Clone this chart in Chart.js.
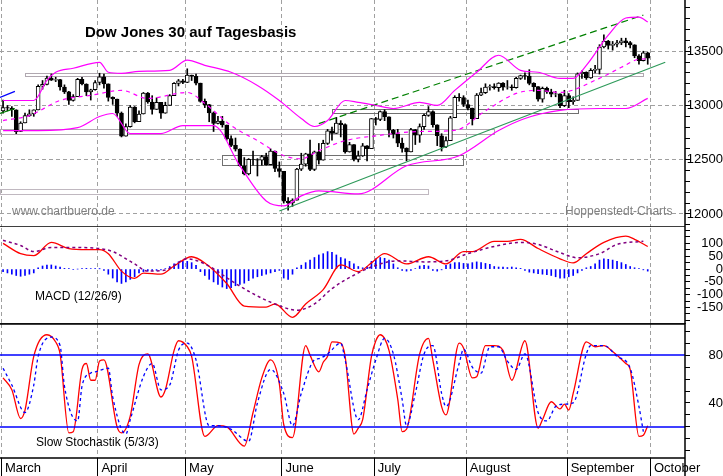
<!DOCTYPE html>
<html>
<head>
<meta charset="utf-8">
<script src="https://cdn.jsdelivr.net/npm/chart.js@4"></script>
<style>
  body { margin: 0; background: #fff; font-family: 'Liberation Sans', Arial, sans-serif; }
  #wrap { position: relative; width: 723px; height: 476px; overflow: hidden; }
  canvas { position: absolute; left: 0; }
  .txt { position: absolute; white-space: nowrap; }
</style>
</head>
<body>
<div id="wrap">
  <canvas id="main" style="top:0"></canvas>
  <canvas id="macd" style="top:227px"></canvas>
  <canvas id="stoch" style="top:323px"></canvas>
  <div class="txt" style="left:85px;top:23px;font-size:15px;font-weight:bold;">Dow Jones 30 auf Tagesbasis</div>
  <div class="txt" style="left:12px;top:204px;font-size:12px;color:#808080;">www.chartbuero.de</div>
  <div class="txt" style="left:565px;top:204px;font-size:12px;color:#808080;">Hoppenstedt-Charts</div>
  <div class="txt" style="left:35px;top:289px;font-size:12px;">MACD (12/26/9)</div>
  <div class="txt" style="left:36px;top:435px;font-size:12px;">Slow Stochastik (5/3/3)</div>
</div>
<script>
// trading day index 0 = 1 March 2012
const monthNames = ['March', 'April', 'May', 'June', 'July', 'August', 'September', 'October']
const monthStart = [0, 22, 42, 64, 85, 106, 129, 148]

// Dow Jones daily candles
const opens = [
  12950,12980,12977,12960,12760,12840,12907,12922,12960,13177,13194,13253,13233,13239,13170,13125,13046,13081,13241,13198,13126,13145,
  13212,13264,13199,13075,13060,12930,12716,12805,12986,12850,12921,13115,13032,12964,13029,12928,13001,13090,13204,13228,
  13213,13279,13269,13206,13038,13008,12932,12835,12855,12820,12695,12632,12598,12442,12369,12504,12502,12496,12529,12454,12580,12419,
  12393,12119,12101,12127,12414,12460,12554,12411,12573,12496,12651,12767,12742,12837,12824,12573,12640,12502,12535,12627,12602,
  12880,12871,12943,12896,12772,12736,12653,12605,12573,12777,12727,12805,12908,12943,12822,12721,12617,12676,12887,13075,13073,
  13009,12976,12879,13096,13118,13169,13175,13165,13207,13169,13172,13164,13250,13275,13271,13203,13173,13057,13158,13124,13103,13107,12999,
  13091,13036,13047,13292,13306,13254,13323,13333,13539,13593,13553,13565,13577,13596,13579,13558,13457,13413,13485
]
const highs = [
  13050,13000,12990,12960,12850,12930,12960,12960,13190,13230,13270,13290,13260,13240,13190,13130,13100,13250,13260,13200,13150,13230,
  13297,13290,13199,13080,13060,12940,12830,13000,12990,12950,13120,13120,13090,13070,13030,13030,13100,13210,13240,13240,
  13338,13280,13290,13206,13060,13010,12940,12900,12900,12820,12720,12700,12600,12520,12510,12580,12510,12540,12560,12600,12580,12480,
  12393,12150,12140,12420,12560,12560,12680,12580,12650,12680,12780,12800,12890,12860,12830,12660,12640,12580,12650,12630,12880,
  12890,12950,12960,12896,12780,12780,12700,12610,12790,12780,12830,12920,12990,12950,12822,12740,12710,12900,13090,13110,13090,
  13050,12976,13110,13160,13200,13190,13200,13210,13210,13230,13190,13260,13280,13300,13330,13210,13173,13170,13170,13150,13130,13107,13140,
  13110,13080,13300,13320,13310,13340,13370,13560,13650,13600,13590,13600,13620,13620,13590,13560,13470,13500,13490
]
const lows = [
  12930,12950,12900,12740,12760,12840,12900,12900,12960,13150,13190,13230,13220,13140,13110,13010,13040,13081,13190,13090,13050,13140,
  13190,13160,13040,13010,12900,12710,12716,12800,12840,12850,12921,13020,12920,12964,12880,12928,13001,13090,13180,13200,
  13210,13230,13190,13030,12980,12850,12760,12830,12800,12680,12620,12580,12440,12360,12360,12450,12350,12450,12450,12454,12390,12340,
  12100,12035,12070,12127,12400,12440,12400,12400,12460,12496,12640,12680,12742,12710,12560,12570,12490,12480,12530,12490,12602,
  12820,12860,12860,12710,12700,12620,12570,12490,12573,12640,12660,12780,12900,12800,12630,12580,12610,12676,12887,13040,12990,
  12960,12820,12879,13090,13110,13140,13150,13130,13140,13150,13140,13160,13240,13240,13190,13130,13040,13030,13110,13080,13080,12980,12990,
  12980,13010,13047,13250,13240,13250,13300,13290,13530,13520,13510,13540,13560,13540,13530,13440,13380,13410,13380
]
const closes = [
  12980,12977,12962,12759,12837,12907,12922,12959,13177,13194,13253,13233,13239,13170,13125,13046,13081,13241,13198,13126,13145,13212,
  13264,13199,13075,13060,12930,12716,12805,12986,12850,12921,13115,13032,12964,13029,12928,13001,13090,13204,13228,13213,
  13279,13269,13206,13038,13008,12932,12835,12855,12820,12695,12632,12598,12442,12369,12504,12502,12496,12529,12454,12580,12419,12393,
  12119,12101,12127,12414,12460,12554,12411,12573,12496,12651,12767,12742,12837,12824,12573,12640,12502,12535,12627,12602,12880,
  12871,12943,12896,12772,12736,12653,12605,12573,12777,12727,12805,12908,12943,12822,12721,12617,12676,12887,13075,13073,13009,
  12976,12879,13096,13118,13169,13175,13165,13207,13169,13172,13164,13250,13275,13271,13203,13173,13057,13158,13124,13103,13107,12999,13091,
  13036,13047,13292,13306,13254,13323,13333,13539,13593,13553,13565,13577,13596,13579,13558,13457,13413,13485,13437
]

// Bollinger bands as [day, value]
const bbUpper = [[0,13046],[4,13046],[7,13046],[10,13232],[12,13306],[16,13343],[22,13398],[24,13306],[27,13296],[31,13315],[38,13324],[42,13417],[46,13370],[52,13306],[58,13185],[63,13046],[68,12880],[71,12806],[74,12861],[78,13046],[81,13028],[85,13000],[89,12972],[95,13028],[99,13000],[103,13139],[108,13306],[113,13463],[118,13324],[122,13306],[127,13250],[130,13250],[133,13370],[138,13648],[142,13806],[145,13815],[147,13769]]
const bbMiddle = [[0,12861],[6,12907],[13,13046],[20,13093],[27,13139],[33,13065],[42,13120],[46,13019],[52,12815],[58,12676],[64,12537],[68,12509],[72,12583],[78,12676],[85,12720],[95,12760],[103,12770],[110,12950],[117,13111],[122,13139],[127,13120],[136,13250],[141,13352],[145,13426],[147,13430]]
const bbLower = [[0,12769],[8,12769],[17,12796],[22,12898],[25,12926],[29,12741],[36,12741],[41,12815],[48,12815],[54,12444],[60,12120],[64,12074],[68,12167],[72,12213],[81,12185],[92,12444],[104,12537],[113,12769],[119,12880],[127,12954],[136,12972],[142,12972],[147,13065]]

// trend lines [day0, value0, day1, value1]
const channelTop = [72, 12833, 146, 13833]
const channelBottom = [63, 12028, 151, 13398]
const oldGreen = [-0.7, 12926, 2.7, 12972]
const oldBlue = [-0.7, 13074, 2.7, 13130]

// support / resistance zones [day0, day1, low, high]
const zones = [[5, 146, 13269, 13296], [-0.7, 112, 12741, 12787], [50, 105, 12454, 12546], [75, 131, 12926, 12963], [-0.7, 97, 12185, 12231]]
const zoneColors = ['#b0a8b0', '#b0a8b0', '#707070', '#707070', '#c0b8c0']

// MACD (12/26/9)
const macdLine = [[0,100],[4,60],[7,52],[11,104],[15,80],[19,76],[22,76],[24,60],[27,-8],[30,-36],[32,-16],[36,-20],[39,12],[43,48],[46,24],[51,-56],[55,-144],[60,-148],[62,-136],[66,-188],[69,-136],[73,-80],[77,16],[81,-10],[84,24],[87,60],[92,20],[97,48],[101,20],[105,68],[107,68],[112,108],[115,108],[118,116],[122,80],[127,40],[130,24],[133,60],[137,104],[142,128],[144,116],[147,88]]
const signalLine = [[0,112],[4,92],[7,68],[11,84],[16,84],[22,80],[25,68],[30,20],[33,-8],[37,-4],[42,40],[46,20],[53,-56],[57,-96],[62,-136],[67,-160],[71,-136],[75,-76],[81,-15],[86,20],[90,32],[96,28],[101,32],[106,60],[113,92],[118,104],[122,96],[127,64],[131,44],[136,60],[140,96],[146,108]]
const macdHist = [
  -10,-15,-20,-25,-28,-25,-20,-15, 5,12,16,16,12,8, 3,2,-2,0,2,3,2,2,1,
  -5,-20,-35,-50,-56,-50,-40,-30, -15,-10,-8,-5,-5,-3,2, 10,20,28,32,30,25,15,
  -10,-25,-40,-50,-60,-70,-76,-72,-65,-60,-55,-45, -35,-30,-25,-20,-15,-10,-5,
  -35,-40,-20, 5,15,25,35,45,55,60,68,65,55,45, 40,30,20,10,5,10,
  30,40,45,42,35,20, 5,-5,-8,-5,2, 12,15,12, -5,-8,-3,
  15,20,25,25,22,20,25,28,25,22,18, 10,8,8,6,8,5,3, -5,-12,-15,-18,-20,-22,
  -25,-30,-35,-35,-30,-25,-15, -5,5, 10,20,35,40,38,35,30,25, 18,10,5,2,-3,-8
]

// Slow stochastic (5/3/3)
const stochK = [[0,61],[2,51],[4,27],[5,34],[7,79],[10,97],[12,91],[13,81],[15,15],[16,16],[18,68],[19,73],[20,59],[21,59],[22,75],[23,76],[26,20],[27,15],[29,29],[31,72],[33,81],[36,45],[37,51],[39,84],[40,92],[42,87],[43,79],[46,12],[49,21],[51,20],[55,4],[57,32],[59,61],[61,76],[63,56],[64,22],[66,11],[69,88],[70,80],[72,66],[73,74],[74,79],[75,91],[77,90],[78,79],[80,14],[81,19],[82,26],[84,79],[85,92],[86,97],[88,84],[90,43],[91,16],[92,18],[95,81],[97,94],[98,76],[100,37],[101,30],[104,90],[105,86],[107,61],[108,62],[110,88],[112,88],[114,84],[116,59],[119,92],[122,19],[123,26],[125,41],[127,35],[128,39],[129,34],[130,48],[133,91],[135,87],[137,88],[139,83],[142,73],[143,68],[145,12],[146,13],[147,21]]
const stochD = [[0,69],[2,55],[5,32],[7,55],[8,79],[11,95],[13,88],[14,54],[17,25],[18,54],[20,65],[21,66],[24,69],[25,45],[28,14],[29,26],[32,62],[34,73],[36,51],[38,55],[40,84],[42,90],[44,76],[47,21],[49,21],[52,18],[56,8],[58,40],[61,68],[64,48],[66,21],[68,48],[71,76],[72,77],[74,81],[77,90],[78,76],[81,26],[83,51],[85,76],[87,94],[89,81],[91,43],[92,21],[94,48],[96,81],[98,88],[100,48],[101,37],[104,73],[105,85],[107,70],[109,65],[111,87],[113,87],[115,75],[117,68],[119,81],[122,32],[124,25],[126,37],[128,39],[130,40],[133,81],[134,88],[137,88],[140,79],[143,69],[145,37],[146,16]]
const stochLevels = [80, 20]

Chart.defaults.font.family = "'Liberation Sans', Arial, sans-serif"
Chart.defaults.font.size = 13
Chart.defaults.color = '#000'
Chart.defaults.animation = false
Chart.defaults.responsive = false
Chart.defaults.plugins.legend.display = false
Chart.defaults.plugins.tooltip.enabled = false

const X_MIN = -0.7, X_MAX = 155.5
const pts = arr => arr.map(p => ({ x: p[0], y: p[1] }))
const seg = s => [{ x: s[0], y: s[1] }, { x: s[2], y: s[3] }]

function line(data, color, width, dash) {
  return { type: 'line', data, borderColor: color, borderWidth: width, borderDash: dash || [], pointRadius: 0, fill: false, cubicInterpolationMode: 'monotone' }
}

function xAxis(showLabels) {
  return {
    type: 'linear', min: X_MIN, max: X_MAX, offset: false,
    afterBuildTicks: a => { a.ticks = monthStart.map(v => ({ value: v - 0.4 })) },
    ticks: { display: showLabels, autoSkip: false, maxRotation: 0, align: 'start', padding: -15, callback: (v, i) => ' ' + monthNames[i] },
    grid: { offset: false, color: '#a0a0a0', drawTicks: showLabels, tickLength: 18, tickColor: '#000', tickBorderDash: [] },
    border: { display: false, dash: [4, 3] },
    afterFit: a => { a.height = showLabels ? 18 : 0; a.paddingLeft = 0; a.paddingRight = 0 }
  }
}

function yAxis(min, max, step, from, showLabel, gridColor) {
  return {
    position: 'right', min, max,
    afterBuildTicks: a => { const t = []; for (let v = from; v <= max; v += step) t.push({ value: v }); a.ticks = t },
    ticks: { autoSkip: false, crossAlign: 'far', padding: 2, callback: v => showLabel(v) ? String(v) : '' },
    grid: { color: ctx => gridColor(ctx.tick ? ctx.tick.value : 0), tickColor: '#000', tickLength: 5, tickBorderDash: [] },
    border: { display: false, dash: [4, 3] },
    afterFit: a => { a.width = 38; a.paddingTop = 0; a.paddingBottom = 0 }
  }
}

// panel frame lines and zone boxes
const framePlugin = {
  id: 'frame',
  beforeDatasetsDraw(chart, args, opts) {
    if (!opts.zones) return
    const { ctx, scales: { x, y } } = chart
    ctx.save()
    ctx.lineWidth = 1
    zones.forEach((z, i) => {
      const x0 = x.getPixelForValue(z[0]), x1 = x.getPixelForValue(z[1])
      const y0 = y.getPixelForValue(z[3]), y1 = y.getPixelForValue(z[2])
      ctx.strokeStyle = zoneColors[i]
      ctx.strokeRect(Math.round(x0) + 0.5, Math.round(y0) + 0.5, Math.round(x1 - x0), Math.round(y1 - y0))
    })
    ctx.restore()
  },
  afterDraw(chart, args, opts) {
    const { ctx, chartArea: a } = chart
    ctx.save()
    ctx.strokeStyle = '#000'
    ctx.lineWidth = 1.5
    ctx.beginPath()
    ctx.moveTo(a.right, 0); ctx.lineTo(a.right, chart.height)
    if (opts.top) { ctx.moveTo(0, a.top); ctx.lineTo(a.right, a.top) }
    if (opts.bottom) { ctx.moveTo(0, a.bottom); ctx.lineTo(a.right, a.bottom) }
    ctx.stroke()
    ctx.restore()
  }
}

function setup(id, h) {
  const c = document.getElementById(id)
  c.width = 723; c.height = h
  return c
}

// ---- price panel ----
const days = closes.map((c, i) => i)
new Chart(setup('main', 227), {
  type: 'bar',
  data: {
    datasets: [
      { data: days.map(i => ({ x: i, y: [lows[i], highs[i]] })), backgroundColor: '#000', barThickness: 1, grouped: false, order: 2 },
      {
        data: days.map(i => ({ x: i, y: [opens[i], closes[i]] })),
        backgroundColor: days.map(i => closes[i] >= opens[i] ? '#fff' : '#000'),
        borderColor: '#000', borderWidth: 1, borderSkipped: false, barThickness: 4, grouped: false, order: 1
      },
      line(pts(bbUpper), '#ff00ff', 1.2),
      line(pts(bbMiddle), '#ff00ff', 1.2, [4, 4]),
      line(pts(bbLower), '#ff00ff', 1.2),
      line(seg(channelTop), '#008000', 1.2, [7, 4]),
      line(seg(channelBottom), '#2e9a5a', 1.2),
      line(seg(oldGreen), '#008000', 1.2),
      line(seg(oldBlue), '#0000ff', 1.2)
    ]
  },
  options: {
    layout: { padding: 0 },
    scales: {
      x: xAxis(false),
      y: yAxis(11880, 13972, 100, 11900, v => v % 500 === 0, v => v % 500 === 0 ? '#a0a0a0' : 'rgba(0,0,0,0)')
    },
    plugins: { frame: { zones: true, bottom: true } }
  },
  plugins: [framePlugin]
})

// ---- MACD panel ----
new Chart(setup('macd', 97), {
  type: 'bar',
  data: {
    datasets: [
      { data: macdHist.map((v, i) => ({ x: i, y: v })), backgroundColor: '#0000ff', barThickness: 1, order: 3 },
      line(pts(signalLine), '#800080', 1.5, [3, 3]),
      line(pts(macdLine), '#ff0000', 1.3)
    ]
  },
  options: {
    layout: { padding: { top: 1 } },
    scales: {
      x: xAxis(false),
      y: yAxis(-214, 160, 25, -200, v => v >= -150 && v <= 100 && v % 50 === 0, () => 'rgba(0,0,0,0)')
    },
    plugins: { frame: { bottom: true } }
  },
  plugins: [framePlugin]
})

// ---- Stochastic panel ----
new Chart(setup('stoch', 153), {
  type: 'line',
  data: {
    datasets: [
      ...stochLevels.map(l => line([{ x: X_MIN, y: l }, { x: X_MAX, y: l }], '#0000ff', 1.5)),
      line(pts(stochD), '#0000ff', 1.3, [3, 3]),
      line(pts(stochK), '#ff0000', 1.3)
    ]
  },
  options: {
    layout: { padding: { top: 1 } },
    scales: {
      x: xAxis(true),
      y: yAxis(-6, 106, 10, 0, v => v === 80 || v === 40, () => 'rgba(0,0,0,0)')
    },
    plugins: { frame: { top: true, bottom: true } }
  },
  plugins: [framePlugin]
})
</script>
</body>
</html>
